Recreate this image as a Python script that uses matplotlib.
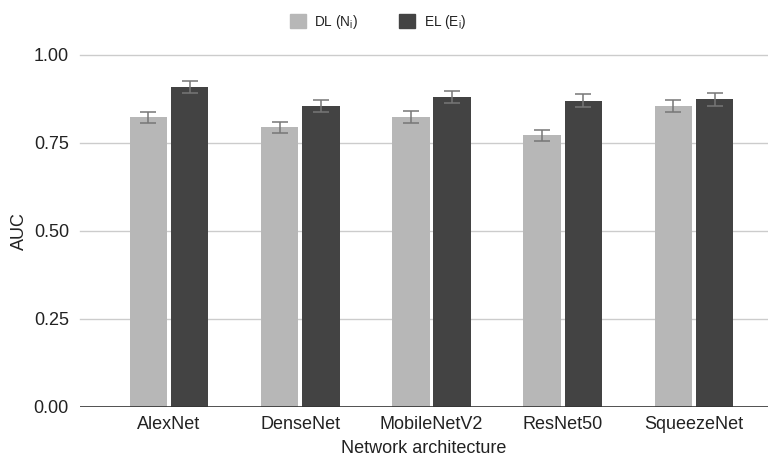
import matplotlib.pyplot as plt
import numpy as np
from matplotlib.patches import Patch

plt.rcParams['font.family'] = ['Liberation Sans', 'DejaVu Sans']

models = ['AlexNet', 'DenseNet', 'MobileNetV2', 'ResNet50', 'SqueezeNet']
dl_auc = [0.822, 0.794, 0.822, 0.771, 0.854]
el_auc = [0.908, 0.854, 0.880, 0.869, 0.873]
dl_err = [0.016, 0.016, 0.017, 0.016, 0.017]
el_err = [0.018, 0.017, 0.018, 0.018, 0.018]
y_ticks = [0.0, 0.25, 0.5, 0.75, 1.0]

colors = {
    'dl': '#b7b7b7',
    'el': '#434343',
    'err': '#777777',
    'grid': '#cccccc',
    'text': '#222222',
}

fig = plt.figure(figsize=(7.68, 4.59), dpi=100)
ax = fig.add_axes([0.1042, 0.114, 0.8958, 0.767])

x = np.arange(len(models))
w = 0.287
ax.bar(x - 0.157, dl_auc, w, color=colors['dl'], zorder=3)
ax.bar(x + 0.157, el_auc, w, color=colors['el'], zorder=3)
ax.errorbar(x - 0.157, dl_auc, yerr=dl_err, fmt='none', ecolor=colors['err'],
            elinewidth=1.1, capsize=5.8, capthick=1.1, zorder=4, clip_on=False)
ax.errorbar(x + 0.157, el_auc, yerr=el_err, fmt='none', ecolor=colors['err'],
            elinewidth=1.1, capsize=5.8, capthick=1.1, zorder=4, clip_on=False)

ax.set_xlim(-0.678, 4.564)
ax.set_ylim(0, 1.0)
ax.set_yticks(y_ticks)
ax.set_yticklabels([f'{t:.2f}' for t in y_ticks])
ax.set_xticks(x)
ax.set_xticklabels(models)
ax.tick_params(length=0, labelsize=13, colors=colors['text'], pad=8)
ax.tick_params(axis='x', pad=7)

for t in y_ticks[1:]:
    ax.axhline(t, color=colors['grid'], lw=1.0, zorder=1, clip_on=False)
ax.axhline(0, color='#333333', lw=1.2, zorder=5)

for s in ax.spines.values():
    s.set_visible(False)

ax.set_xlabel('Network architecture', fontsize=13, color=colors['text'], labelpad=5)
ax.set_ylabel('AUC', fontsize=13, color=colors['text'], labelpad=4)

handles = [Patch(color=colors['dl'], label='DL (N$\\mathregular{_i}$)'),
           Patch(color=colors['el'], label='EL (E$\\mathregular{_i}$)')]
fig.legend(handles=handles, loc='center', bbox_to_anchor=(0.492, 0.953), ncol=2,
           frameon=False, fontsize=9.8, handlelength=1.2, handleheight=1.2,
           columnspacing=3.0, handletextpad=0.6, labelcolor=colors['text'])

plt.savefig('out.png', dpi=100)
